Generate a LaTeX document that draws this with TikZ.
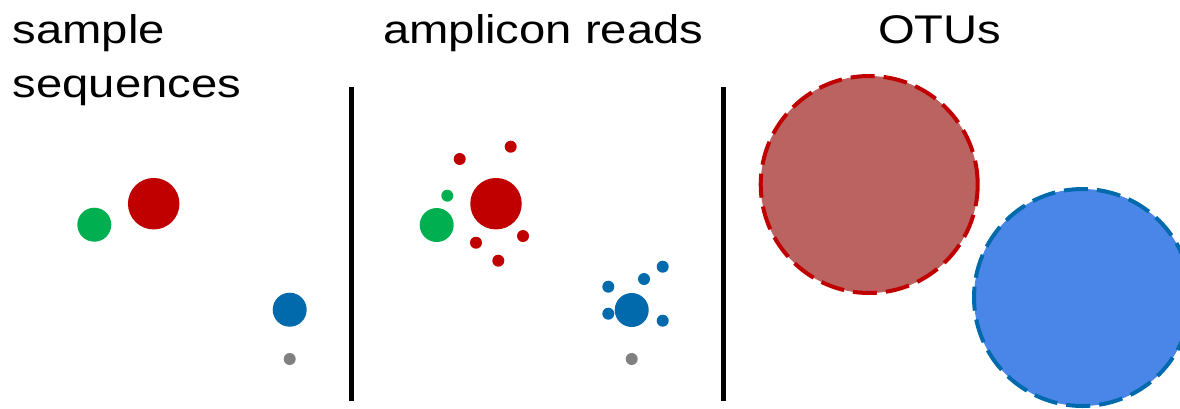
\documentclass[tikz,border=0pt]{standalone}
\usepackage{fontspec}
\setmainfont{Liberation Sans}
\definecolor{cred}{HTML}{C00000}
\definecolor{cgreen}{HTML}{00B050}
\definecolor{cblue}{HTML}{006AAC}
\definecolor{cgray}{HTML}{808080}
\definecolor{otured}{HTML}{BA6360}
\definecolor{otublue}{HTML}{4A86E8}
\begin{document}
\begin{tikzpicture}[x=1pt,y=-1pt,
  dot/.style={circle,draw=none,inner sep=0pt,minimum size=#1},
  title/.style={anchor=base west,inner sep=0pt,font=\fontsize{40}{54}\selectfont},
  divider/.style={line width=5pt,black},
  otu/.style={circle,inner sep=0pt,minimum size=217pt,line width=4pt,dash pattern=on 24pt off 9pt}]
\useasboundingbox (0,0) rectangle (1180,408);
% titles
\node[title] (t1a) at (12.5,43.3) {\scalebox{1.18}[1]{sample}};
\node[title] (t1b) at (12.5,97) {\scalebox{1.18}[1]{sequences}};
\node[title] (t2) at (383,43.3) {\scalebox{1.18}[1]{amplicon reads}};
\node[title] (t3) at (878,43.3) {\scalebox{1.18}[1]{OTUs}};
% dividers
\coordinate (d1t) at (351,87); \coordinate (d1b) at (351,401);
\coordinate (d2t) at (723,87); \coordinate (d2b) at (723,401);
\draw[divider] (d1t) -- (d1b);
\draw[divider] (d2t) -- (d2b);
% panel 1
\node[dot=34pt,fill=cgreen] (g1) at (94.3,224.7) {};
\node[dot=51.5pt,fill=cred] (r1) at (153.7,203.7) {};
\node[dot=34pt,fill=cblue] (b1) at (289.7,309.7) {};
\node[dot=12pt,fill=cgray] (k1) at (289.7,359) {};
% panel 2
\node[dot=34pt,fill=cgreen] (g2) at (436.7,225) {};
\node[dot=12pt,fill=cgreen] (g2s) at (447.3,195.7) {};
\node[dot=51.5pt,fill=cred] (r2) at (496,203.7) {};
\node[dot=12pt,fill=cred] (r2a) at (459.7,159) {};
\node[dot=12pt,fill=cred] (r2b) at (510.7,146.7) {};
\node[dot=12pt,fill=cred] (r2c) at (476,242.7) {};
\node[dot=12pt,fill=cred] (r2d) at (523,236) {};
\node[dot=12pt,fill=cred] (r2e) at (498.3,260.7) {};
\node[dot=34pt,fill=cblue] (b2) at (631.7,310) {};
\node[dot=12pt,fill=cblue] (b2a) at (608.3,286.7) {};
\node[dot=12pt,fill=cblue] (b2b) at (644,279) {};
\node[dot=12pt,fill=cblue] (b2c) at (662.7,266.7) {};
\node[dot=12pt,fill=cblue] (b2d) at (608.3,313.7) {};
\node[dot=12pt,fill=cblue] (b2e) at (662.7,320.7) {};
\node[dot=12pt,fill=cgray] (k2) at (631.7,359) {};
% panel 3
\node[otu,fill=otured,draw=cred] (o1) at (869.2,184.5) {};
\node[otu,fill=otublue,draw=cblue] (o2) at (1082.5,297.5) {};
\end{tikzpicture}
\end{document}
